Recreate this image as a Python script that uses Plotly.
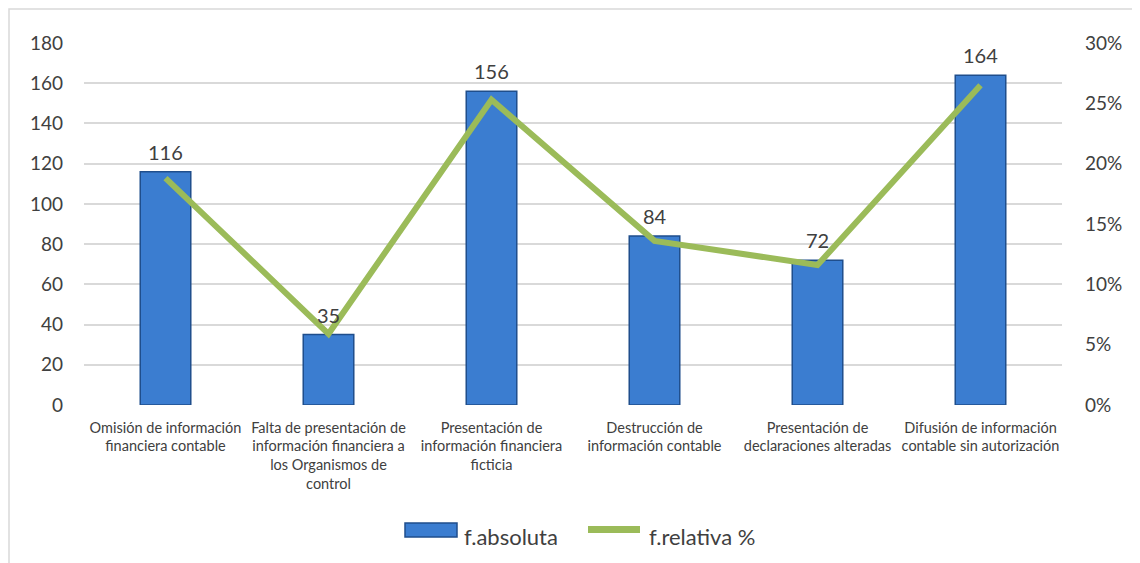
import plotly.graph_objects as go

categories = [
    "Omisión de información<br>financiera contable",
    "Falta de presentación de<br>información financiera a<br>los Organismos de<br>control",
    "Presentación de<br>información financiera<br>ficticia",
    "Destrucción de<br>información contable",
    "Presentación de<br>declaraciones alteradas",
    "Difusión de información<br>contable sin autorización",
]
f_absoluta = [116, 35, 156, 84, 72, 164]
f_relativa = [0.188, 0.059, 0.253, 0.136, 0.116, 0.265]
series_names = ["f.absoluta", "f.relativa %"]

FONT = "Lato, 'Open Sans', sans-serif"
GRAY = "#404040"
BLUE = "#3B7DD0"
BLUE_EDGE = "#1F4E8C"
GREEN = "#9BBB59"

fig = go.Figure()
fig.add_trace(go.Bar(
    x=categories, y=f_absoluta, name=series_names[0],
    marker=dict(color=BLUE, line=dict(color=BLUE_EDGE, width=1.5)),
    width=0.31,
))
fig.add_trace(go.Scatter(
    x=categories, y=f_relativa, name=series_names[1], yaxis="y2",
    mode="lines", line=dict(color=GREEN, width=6),
))

W, H = 1140, 563
L, R, T, B = 76, 86, 35, 166
pw, ph = W - L - R, H - T - B
OFF = 8  # page body offset


def px(sx):
    return (sx - OFF - L) / pw


def py(sy):
    return ((H - B) - (sy - OFF)) / ph


annotations = [
    dict(x=c, y=v, xref="x", yref="y", text=str(v), showarrow=False,
         yanchor="bottom", yshift=6, font=dict(size=20, color=GRAY, family=FONT))
    for c, v in zip(categories, f_absoluta)
]
annotations += [
    dict(x=px(462), y=py(536), xref="paper", yref="paper", text=series_names[0],
         showarrow=False, xanchor="left", yanchor="middle",
         font=dict(size=22, color=GRAY, family=FONT)),
    dict(x=px(647), y=py(536), xref="paper", yref="paper", text=series_names[1],
         showarrow=False, xanchor="left", yanchor="middle",
         font=dict(size=22, color=GRAY, family=FONT)),
]

shapes = [
    dict(type="rect", xref="paper", yref="paper",
         x0=(1 - L) / pw, x1=(1125 - L) / pw,
         y0=-(B + 20) / ph, y1=1 + (T - 1) / ph,
         line=dict(color="#D9D9D9", width=1.5), layer="below"),
    dict(type="rect", xref="paper", yref="paper",
         x0=px(405), x1=px(457), y0=py(537), y1=py(523),
         fillcolor=BLUE, line=dict(color=BLUE_EDGE, width=1.5)),
    dict(type="line", xref="paper", yref="paper",
         x0=px(588), x1=px(640), y0=py(529.5), y1=py(529.5),
         line=dict(color=GREEN, width=7)),
]

fig.update_layout(
    width=W, height=H,
    margin=dict(l=L, r=R, t=T, b=B, autoexpand=False),
    paper_bgcolor="white", plot_bgcolor="white",
    font=dict(family=FONT, color=GRAY),
    xaxis=dict(showgrid=False, showline=False, ticks="", automargin=False,
               tickfont=dict(size=14.5, color=GRAY), ticklabelstandoff=12),
    yaxis=dict(range=[0, 180], dtick=20, showgrid=True, gridcolor="#D9D9D9",
               gridwidth=1.5, zeroline=False, showline=False, automargin=False,
               tickfont=dict(size=19, color=GRAY), ticklabelstandoff=20),
    yaxis2=dict(range=[0, 0.3], dtick=0.05, tickformat=".0%", overlaying="y",
                side="right", showgrid=False, zeroline=False, showline=False,
                automargin=False,
                tickfont=dict(size=19, color=GRAY), ticklabelstandoff=22),
    showlegend=False,
    annotations=annotations,
    shapes=shapes,
)
fig.write_html("out.html")
